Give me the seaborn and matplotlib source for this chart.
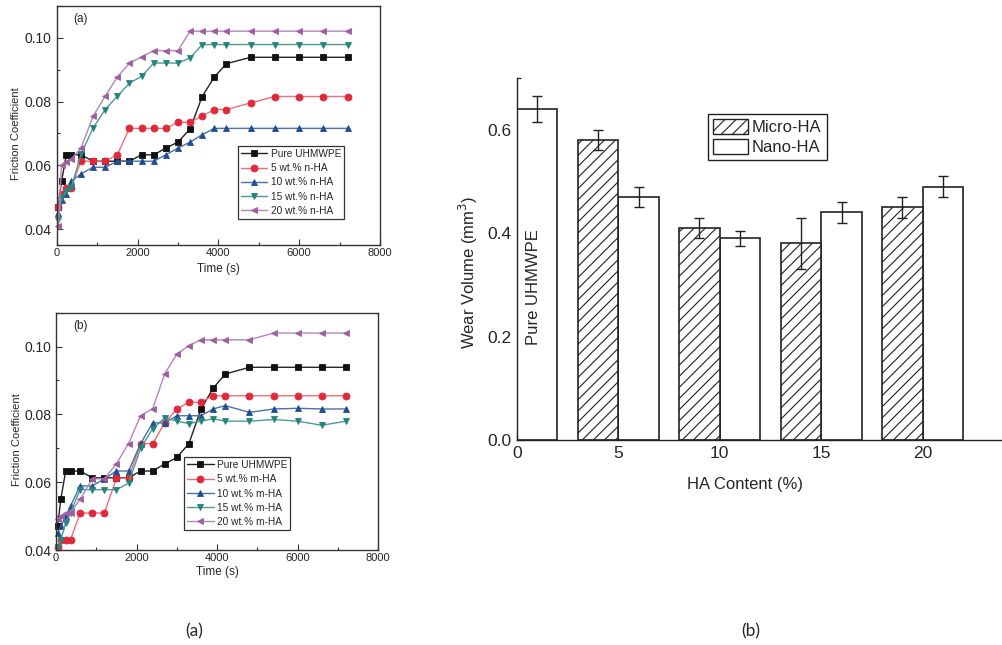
import numpy as np
import pandas as pd
import matplotlib
matplotlib.use("Agg")
import matplotlib.pyplot as plt
from matplotlib.ticker import MultipleLocator, FormatStrFormatter
from matplotlib.patches import Patch
import seaborn as sns

# ---------------- data ----------------
times = [40, 120, 240, 360, 600, 900, 1200, 1500, 1800, 2100, 2400, 2700, 3000,
         3300, 3600, 3900, 4200, 4800, 5400, 6000, 6600, 7200]

pure = [0.047, 0.055, 0.0633, 0.0633, 0.0633, 0.0613, 0.0613, 0.0613, 0.0613, 0.0633, 0.0633,
        0.0654, 0.0673, 0.0714, 0.0816, 0.0877, 0.0919, 0.0939, 0.0939, 0.0939, 0.0939, 0.0939]

n5 = [0.047, 0.051, 0.053, 0.053, 0.0613, 0.0613, 0.0613, 0.0633, 0.0716, 0.0716, 0.0716,
      0.0716, 0.0735, 0.0735, 0.0755, 0.0775, 0.0775, 0.0796, 0.0816, 0.0816, 0.0816, 0.0816]
n10 = [0.045, 0.049, 0.051, 0.055, 0.0573, 0.0594, 0.0594, 0.0613, 0.0613, 0.0613, 0.0613,
       0.0633, 0.0654, 0.0673, 0.0696, 0.0716, 0.0716, 0.0716, 0.0716, 0.0716, 0.0716, 0.0716]
n15 = [0.043, 0.050, 0.052, 0.053, 0.0635, 0.0717, 0.0775, 0.0817, 0.0858, 0.0879, 0.0921,
       0.0921, 0.0921, 0.0937, 0.0979, 0.0979, 0.0979, 0.0979, 0.0979, 0.0979, 0.0979, 0.0979]
n20 = [0.041, 0.060, 0.061, 0.062, 0.0654, 0.0754, 0.0817, 0.0877, 0.0921, 0.0940, 0.0960,
       0.0960, 0.0960, 0.1021, 0.1021, 0.1021, 0.1021, 0.1021, 0.1021, 0.1021, 0.1021, 0.1021]

m5 = [0.041, 0.043, 0.043, 0.043, 0.0509, 0.0509, 0.0509, 0.0612, 0.0612, 0.0714, 0.0714,
      0.0775, 0.0816, 0.0836, 0.0836, 0.0855, 0.0855, 0.0855, 0.0855, 0.0855, 0.0855, 0.0855]
m10 = [0.045, 0.047, 0.050, 0.053, 0.0589, 0.0589, 0.0610, 0.0633, 0.0633, 0.0714, 0.0775,
       0.0775, 0.0796, 0.0796, 0.0796, 0.0816, 0.0826, 0.0806, 0.0816, 0.0818, 0.0816, 0.0816]
m15 = [0.041, 0.043, 0.048, 0.051, 0.0578, 0.0578, 0.0578, 0.0578, 0.0597, 0.0700, 0.0758,
       0.0790, 0.0780, 0.0773, 0.0780, 0.0787, 0.0780, 0.0780, 0.0785, 0.0780, 0.0768, 0.0780]
m20 = [0.049, 0.050, 0.051, 0.051, 0.055, 0.061, 0.061, 0.0654, 0.0714, 0.0796, 0.0817,
       0.0920, 0.0978, 0.1003, 0.1020, 0.1020, 0.1020, 0.1020, 0.1040, 0.1040, 0.1040, 0.1040]

labels_n = ["Pure UHMWPE", "5 wt.% n-HA", "10 wt.% n-HA", "15 wt.% n-HA", "20 wt.% n-HA"]
labels_m = ["Pure UHMWPE", "5 wt.% m-HA", "10 wt.% m-HA", "15 wt.% m-HA", "20 wt.% m-HA"]

# bar chart data
pure_pos = [1]
pure_wear = [0.64]
pure_err = [0.025]
micro_pos = [4, 9, 14, 19]
micro_wear = [0.58, 0.41, 0.38, 0.45]
micro_err = [0.02, 0.02, 0.05, 0.02]
nano_pos = [6, 11, 16, 21]
nano_wear = [0.47, 0.39, 0.44, 0.49]
nano_err = [0.02, 0.015, 0.02, 0.02]
bar_xticks = [0, 5, 10, 15, 20]

# ---------------- style ----------------
sns.set_theme(style="ticks")
plt.rcParams["font.family"] = ["Liberation Sans", "DejaVu Sans"]
plt.rcParams["xtick.direction"] = "in"
plt.rcParams["ytick.direction"] = "in"
plt.rcParams["axes.edgecolor"] = "#333333"
plt.rcParams["axes.linewidth"] = 1.0

W, H = 1002, 645
fig = plt.figure(figsize=(W / 100, H / 100), dpi=100)
fig.patch.set_facecolor("white")

def fa(l, t, r, b):
    return [l / W, 1 - b / H, (r - l) / W, (b - t) / H]

colors = ["#111111", "#e2283a", "#1f4f91", "#25857c", "#9e5fa0"]
lcolors = ["#222222", "#ec6f78", "#4a70a8", "#4f9b93", "#b585b6"]
markers = ["s", "o", "^", "v", "<"]

def line_panel(rect, series, labels, ylo, tag, leg_anchor, ylab_xy, xlab_xy):
    ax = fig.add_axes(rect)
    for vals, lab, c, lc, m in zip(series, labels, colors, lcolors, markers):
        sns.lineplot(x=times, y=vals, ax=ax, color=lc, marker=m, markersize=5,
                     markerfacecolor=c, markeredgecolor=c, markeredgewidth=0.6,
                     linewidth=1.0, label=lab, errorbar=None, clip_on=False)
    ax.set_xlim(0, 8000)
    ax.set_ylim(ylo, 0.11)
    ax.xaxis.set_major_locator(MultipleLocator(2000))
    ax.xaxis.set_minor_locator(MultipleLocator(1000))
    ax.yaxis.set_major_locator(MultipleLocator(0.02))
    ax.yaxis.set_minor_locator(MultipleLocator(0.01))
    ax.yaxis.set_major_formatter(FormatStrFormatter("%.2f"))
    ax.tick_params(axis="both", which="major", length=4, width=0.8, color="#333333")
    ax.tick_params(axis="both", which="minor", length=2.5, width=0.8, color="#333333")
    ax.tick_params(axis="x", labelsize=8, pad=2.5)
    ax.tick_params(axis="y", labelsize=10, pad=3.5)
    ax.set_xlabel("Time (s)", fontsize=8.5, va="center")
    ax.set_ylabel("Friction Coefficient", fontsize=8, va="center")
    ax.xaxis.set_label_coords(*xlab_xy)
    ax.yaxis.set_label_coords(*ylab_xy)
    ax.text(0.075, 0.945, tag, transform=ax.transAxes, fontsize=8.5, ha="center", va="center")
    leg = ax.legend(loc="lower left", bbox_to_anchor=leg_anchor, fontsize=7.3,
                    frameon=True, fancybox=False, edgecolor="#333333", framealpha=1,
                    handlelength=2.6, handletextpad=0.3, labelspacing=0.42,
                    borderpad=0.3, borderaxespad=0)
    leg.get_frame().set_linewidth(0.9)
    return ax

ax1 = line_panel(fa(56.7, 6, 380, 245), [pure, n5, n10, n15, n20], labels_n, 0.035, "(a)",
                 (0.561, 0.109), (-0.125, 0.466), (0.499, -0.100))
ax2 = line_panel(fa(56, 312.7, 378.3, 550), [pure, m5, m10, m15, m20], labels_m, 0.04, "(b)",
                 (0.398, 0.084), (-0.122, 0.4636), (0.502, -0.0914))

# ---------------- bar chart ----------------
ax3 = fig.add_axes(fa(516.7, 78, 1002, 440))
edge = "#222222"
plt.rcParams["hatch.linewidth"] = 0.8
plt.rcParams["hatch.color"] = edge
df_nano = pd.DataFrame({"pos": pure_pos + nano_pos, "wear": pure_wear + nano_wear})
df_micro = pd.DataFrame({"pos": micro_pos, "wear": micro_wear})
sns.barplot(data=df_nano, x="pos", y="wear", ax=ax3, native_scale=True, orient="x",
            width=0.4, color="white", saturation=1, edgecolor=edge, linewidth=1.2,
            errorbar=None)
sns.barplot(data=df_micro, x="pos", y="wear", ax=ax3, native_scale=True, orient="x",
            width=0.4, color="white", saturation=1, edgecolor=edge, linewidth=1.2,
            hatch="///", errorbar=None)
ax3.errorbar(pure_pos + micro_pos + nano_pos, pure_wear + micro_wear + nano_wear,
             yerr=pure_err + micro_err + nano_err, fmt="none", ecolor=edge,
             elinewidth=1.0, capsize=3.5, capthick=1.0)
ax3.set_xlim(0, (1002 - 516.7) / 20.3)
ax3.set_ylim(0, 0.7)
ax3.set_xticks(bar_xticks)
ax3.set_xticklabels([str(v) for v in bar_xticks])
ax3.yaxis.set_major_locator(MultipleLocator(0.2))
ax3.yaxis.set_minor_locator(MultipleLocator(0.1))
ax3.yaxis.set_major_formatter(FormatStrFormatter("%.1f"))
for s in ["top", "right"]:
    ax3.spines[s].set_visible(False)
ax3.spines["left"].set_color(edge)
ax3.spines["bottom"].set_color(edge)
ax3.tick_params(axis="both", which="major", length=5, width=0.9, color=edge, labelsize=12.5, pad=4)
ax3.tick_params(axis="y", which="minor", length=3, width=0.9, color=edge)
ax3.set_xlabel("HA Content (%)", fontsize=12, va="center")
ax3.set_ylabel("Wear Volume (mm$^3$)", fontsize=12, va="center")
ax3.xaxis.set_label_coords(0.470, -0.124)
ax3.yaxis.set_label_coords(-0.1003, 0.464)
ax3.text(0.85, 0.295, "Pure UHMWPE", rotation=90, fontsize=12, ha="center", va="center")
handles = [Patch(facecolor="white", edgecolor=edge, hatch="///", linewidth=1.0, label="Micro-HA"),
           Patch(facecolor="white", edgecolor=edge, linewidth=1.0, label="Nano-HA")]
leg3 = ax3.legend(handles=handles, loc="lower left", bbox_to_anchor=(0.394, 0.773),
                  fontsize=12, frameon=True, fancybox=False, edgecolor=edge, framealpha=1,
                  handlelength=2.1, handleheight=1.0, handletextpad=0.25, labelspacing=0.25,
                  borderpad=0.3, borderaxespad=0)
leg3.get_frame().set_linewidth(1.0)

# captions
fig.text(194 / W, 1 - 631 / H, "(a)", fontsize=12.5, ha="center", va="center",
         family=["Lato", "DejaVu Sans"])
fig.text(751 / W, 1 - 631 / H, "(b)", fontsize=12.5, ha="center", va="center",
         family=["Lato", "DejaVu Sans"])

fig.savefig("out.png", dpi=100, facecolor="white")
